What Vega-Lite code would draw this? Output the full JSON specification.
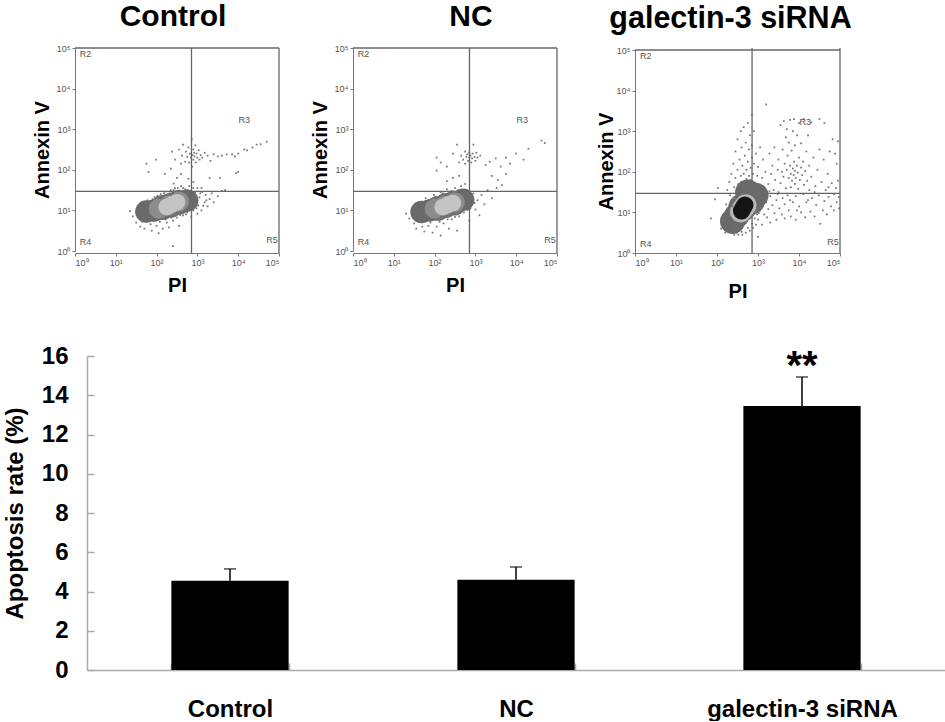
{"$schema":"https://vega.github.io/schema/vega-lite/v6.json","padding":{"left":3,"top":2,"right":0,"bottom":0},"background":"white","config":{"view":{"stroke":null},"font":"Liberation Sans","axis":{"labelOverlap":false,"labelSeparation":0}},"spacing":43,"datasets":{"gates":[{"x":2.855,"y":1.47},{"x":5,"y":5}],"labels":[{"x":0.26,"y":4.84,"t":"R2"},{"x":4.15,"y":3.23,"t":"R3"},{"x":0.26,"y":0.23,"t":"R4"},{"x":4.83,"y":0.27,"t":"R5"}],"bars":[{"group":"Control","rate":4.55,"upper":5.15},{"group":"NC","rate":4.6,"upper":5.25},{"group":"galectin-3 siRNA","rate":13.45,"upper":14.93}]},"vconcat":[{"spacing":30,"resolve":{"scale":{"color":"independent","size":"independent"}},"hconcat":[{"width":204,"height":205,"title":{"text":"Control","fontSize":30,"font":"Liberation Sans","fontWeight":"bold","color":"#000","offset":12,"dx":-4},"layer":[{"data":{"name":"gates"},"mark":{"type":"rule","color":"#666","strokeWidth":1.3},"encoding":{"x":{"field":"x","type":"quantitative","scale":{"domain":[0,5],"range":[0,204],"nice":false},"axis":{"title":"PI","titleFontSize":20,"titleFontWeight":"bold","titleColor":"#000","titlePadding":8,"values":[0,1,2,3,4,5],"labelExpr":"'10' + ['⁰','¹','²','³','⁴','⁵'][datum.value]","labelFontSize":9,"labelColor":"#555","tickColor":"#777","tickSize":3,"domainColor":"#777","grid":false}}}},{"data":{"name":"gates"},"mark":{"type":"rule","color":"#666","strokeWidth":1.3},"encoding":{"y":{"field":"y","type":"quantitative","scale":{"domain":[0,5],"range":[203,0],"nice":false},"axis":{"title":"Annexin V","titleFontSize":20,"titleFontWeight":"bold","titleColor":"#000","titlePadding":4,"values":[0,1,2,3,4,5],"labelExpr":"'10' + ['⁰','¹','²','³','⁴','⁵'][datum.value]","labelFontSize":9,"labelColor":"#555","tickColor":"#777","tickSize":3,"domainColor":"#777","grid":false}}}},{"data":{"values":[{"x":2.15,"y":1.07,"d":"halo"},{"x":2.35,"y":1.13,"d":"halo"},{"x":2.55,"y":1.2,"d":"halo"},{"x":1.75,"y":0.97,"d":"outer"},{"x":1.95,"y":1.0,"d":"outer"},{"x":2.75,"y":1.24,"d":"outer"},{"x":2.05,"y":1.04,"d":"mid"},{"x":2.3,"y":1.12,"d":"mid"},{"x":2.55,"y":1.22,"d":"mid"},{"x":2.25,"y":1.08,"d":"core"},{"x":2.38,"y":1.15,"d":"core"},{"x":2.5,"y":1.2,"d":"core"}]},"mark":{"type":"point","filled":true,"opacity":1,"stroke":null},"encoding":{"x":{"field":"x","type":"quantitative"},"y":{"field":"y","type":"quantitative"},"color":{"field":"d","type":"nominal","legend":null,"scale":{"domain":["halo","outer","mid","core"],"range":["#6f6f6f","#6a6a6a","#8c8c8c","#c4c4c4"]}},"size":{"field":"d","type":"nominal","legend":null,"scale":{"domain":["halo","outer","mid","core"],"range":[620,280,220,70]}}}},{"data":{"values":[{"x":1.35,"y":0.98},{"x":1.42,"y":0.85},{"x":1.5,"y":0.7},{"x":1.55,"y":1.05},{"x":1.6,"y":0.6},{"x":1.62,"y":0.9},{"x":1.68,"y":1.18},{"x":1.7,"y":0.55},{"x":1.75,"y":0.72},{"x":1.78,"y":1.25},{"x":1.85,"y":0.66},{"x":1.88,"y":0.5},{"x":1.95,"y":1.33},{"x":2.0,"y":0.62},{"x":2.05,"y":0.44},{"x":2.1,"y":1.4},{"x":2.15,"y":0.55},{"x":2.2,"y":1.46},{"x":2.25,"y":0.7},{"x":2.3,"y":0.58},{"x":2.35,"y":1.5},{"x":2.4,"y":0.75},{"x":2.45,"y":1.55},{"x":2.5,"y":0.82},{"x":2.55,"y":0.62},{"x":2.6,"y":1.6},{"x":2.65,"y":0.88},{"x":2.7,"y":1.52},{"x":2.75,"y":0.95},{"x":2.8,"y":1.6},{"x":2.85,"y":0.85},{"x":2.9,"y":1.0},{"x":2.92,"y":1.25},{"x":2.95,"y":1.45},{"x":3.0,"y":0.92},{"x":3.02,"y":1.12},{"x":3.05,"y":1.32},{"x":3.1,"y":1.0},{"x":3.12,"y":1.45},{"x":3.18,"y":1.2},{"x":3.2,"y":1.38},{"x":3.25,"y":1.1},{"x":3.3,"y":1.28},{"x":3.35,"y":1.42},{"x":3.4,"y":1.2},{"x":3.5,"y":1.35},{"x":3.6,"y":1.48},{"x":3.68,"y":1.5},{"x":2.4,"y":0.12},{"x":2.9,"y":1.7},{"x":2.78,"y":1.78},{"x":2.6,"y":1.9},{"x":2.42,"y":1.66},{"x":2.5,"y":1.8},{"x":2.35,"y":2.03},{"x":2.45,"y":2.25},{"x":2.38,"y":2.45},{"x":2.6,"y":2.15},{"x":2.62,"y":2.35},{"x":2.55,"y":2.5},{"x":2.65,"y":2.62},{"x":2.7,"y":2.2},{"x":2.72,"y":2.45},{"x":2.75,"y":2.32},{"x":2.78,"y":2.55},{"x":2.8,"y":2.18},{"x":2.82,"y":2.4},{"x":2.84,"y":2.3},{"x":2.86,"y":2.75},{"x":2.87,"y":2.08},{"x":2.88,"y":2.36},{"x":2.9,"y":2.5},{"x":2.9,"y":2.25},{"x":2.92,"y":2.42},{"x":2.93,"y":2.33},{"x":2.95,"y":2.6},{"x":2.96,"y":2.18},{"x":2.98,"y":2.4},{"x":3.0,"y":2.3},{"x":3.03,"y":2.48},{"x":3.05,"y":2.25},{"x":3.08,"y":2.36},{"x":3.12,"y":2.3},{"x":3.18,"y":2.42},{"x":3.25,"y":2.35},{"x":3.32,"y":2.22},{"x":3.4,"y":2.38},{"x":3.5,"y":2.33},{"x":3.6,"y":2.35},{"x":3.72,"y":2.38},{"x":3.85,"y":2.38},{"x":3.92,"y":2.33},{"x":4.0,"y":2.4},{"x":4.15,"y":2.5},{"x":4.22,"y":2.48},{"x":4.35,"y":2.55},{"x":4.45,"y":2.62},{"x":4.55,"y":2.63},{"x":4.7,"y":2.69},{"x":3.95,"y":1.92},{"x":4.0,"y":1.95},{"x":3.55,"y":1.8},{"x":3.3,"y":1.8},{"x":1.8,"y":1.95},{"x":1.75,"y":2.15},{"x":1.98,"y":2.25},{"x":2.2,"y":1.9},{"x":1.5,"y":0.95},{"x":1.58,"y":0.8},{"x":1.65,"y":0.72},{"x":1.72,"y":1.1},{"x":1.82,"y":0.78},{"x":1.9,"y":1.28},{"x":1.92,"y":0.74},{"x":2.02,"y":1.36},{"x":2.08,"y":0.72},{"x":2.18,"y":1.42},{"x":2.22,"y":0.78},{"x":2.32,"y":1.46},{"x":2.36,"y":0.82},{"x":2.42,"y":1.5},{"x":2.52,"y":1.55},{"x":2.58,"y":0.88},{"x":2.68,"y":1.48},{"x":2.72,"y":0.9},{"x":2.82,"y":1.45},{"x":2.88,"y":1.12},{"x":2.97,"y":1.22},{"x":3.07,"y":1.42},{"x":3.14,"y":1.12},{"x":2.98,"y":1.05},{"x":2.9,"y":1.55},{"x":3.0,"y":1.55},{"x":3.1,"y":1.55},{"x":3.22,"y":1.25},{"x":2.4,"y":1.42},{"x":2.55,"y":1.48},{"x":2.65,"y":1.55},{"x":2.76,"y":1.5},{"x":2.86,"y":1.38}]},"mark":{"type":"square","size":3,"color":"#666","opacity":0.9},"encoding":{"x":{"field":"x","type":"quantitative"},"y":{"field":"y","type":"quantitative"}}},{"data":{"name":"labels"},"mark":{"type":"text","fontSize":9,"color":"#555"},"encoding":{"x":{"field":"x","type":"quantitative"},"y":{"field":"y","type":"quantitative"},"text":{"field":"t"}}}]},{"width":213,"height":205,"title":{"text":"NC","fontSize":30,"font":"Liberation Sans","fontWeight":"bold","color":"#000","offset":12,"dx":11.5},"layer":[{"data":{"name":"gates"},"mark":{"type":"rule","color":"#666","strokeWidth":1.3},"encoding":{"x":{"field":"x","type":"quantitative","scale":{"domain":[0,5],"range":[0,204],"nice":false},"axis":{"title":"PI","titleFontSize":20,"titleFontWeight":"bold","titleColor":"#000","titlePadding":8,"values":[0,1,2,3,4,5],"labelExpr":"'10' + ['⁰','¹','²','³','⁴','⁵'][datum.value]","labelFontSize":9,"labelColor":"#555","tickColor":"#777","tickSize":3,"domainColor":"#777","grid":false}}}},{"data":{"name":"gates"},"mark":{"type":"rule","color":"#666","strokeWidth":1.3},"encoding":{"x":{"datum":0},"x2":{"datum":5},"y":{"field":"y","type":"quantitative","scale":{"domain":[0,5],"range":[203,0],"nice":false},"axis":{"title":"Annexin V","titleFontSize":20,"titleFontWeight":"bold","titleColor":"#000","titlePadding":4,"values":[0,1,2,3,4,5],"labelExpr":"'10' + ['⁰','¹','²','³','⁴','⁵'][datum.value]","labelFontSize":9,"labelColor":"#555","tickColor":"#777","tickSize":3,"domainColor":"#777","grid":false}}}},{"data":{"values":[{"x":2.08,"y":1.05,"d":"halo"},{"x":2.28,"y":1.12,"d":"halo"},{"x":2.48,"y":1.18,"d":"halo"},{"x":1.68,"y":0.96,"d":"outer"},{"x":1.88,"y":1.0,"d":"outer"},{"x":2.7,"y":1.26,"d":"outer"},{"x":2.0,"y":1.04,"d":"mid"},{"x":2.25,"y":1.12,"d":"mid"},{"x":2.5,"y":1.2,"d":"mid"},{"x":2.2,"y":1.08,"d":"core"},{"x":2.33,"y":1.14,"d":"core"},{"x":2.45,"y":1.18,"d":"core"}]},"mark":{"type":"point","filled":true,"opacity":1,"stroke":null},"encoding":{"x":{"field":"x","type":"quantitative"},"y":{"field":"y","type":"quantitative"},"color":{"field":"d","type":"nominal","legend":null,"scale":{"domain":["halo","outer","mid","core"],"range":["#6f6f6f","#6a6a6a","#8c8c8c","#c4c4c4"]}},"size":{"field":"d","type":"nominal","legend":null,"scale":{"domain":["halo","outer","mid","core"],"range":[620,280,220,70]}}}},{"data":{"values":[{"x":1.3,"y":0.92},{"x":1.38,"y":0.8},{"x":1.45,"y":1.05},{"x":1.5,"y":0.68},{"x":1.55,"y":0.55},{"x":1.6,"y":1.15},{"x":1.7,"y":0.6},{"x":1.75,"y":0.48},{"x":1.78,"y":1.3},{"x":1.85,"y":0.62},{"x":1.95,"y":0.45},{"x":1.98,"y":1.38},{"x":2.05,"y":0.6},{"x":2.15,"y":0.38},{"x":2.15,"y":1.45},{"x":2.22,"y":0.68},{"x":2.3,"y":1.52},{"x":2.35,"y":0.55},{"x":2.42,"y":0.78},{"x":2.5,"y":1.55},{"x":2.55,"y":0.5},{"x":2.6,"y":0.85},{"x":2.65,"y":1.6},{"x":2.72,"y":0.95},{"x":2.75,"y":1.65},{"x":2.82,"y":1.02},{"x":2.85,"y":0.75},{"x":2.9,"y":1.2},{"x":2.95,"y":1.42},{"x":3.0,"y":1.02},{"x":3.05,"y":1.25},{"x":3.1,"y":0.88},{"x":3.15,"y":1.38},{"x":3.22,"y":1.15},{"x":3.3,"y":1.5},{"x":3.4,"y":1.3},{"x":3.52,"y":1.55},{"x":3.65,"y":1.62},{"x":2.3,"y":1.72},{"x":2.45,"y":1.8},{"x":2.6,"y":1.85},{"x":2.3,"y":2.08},{"x":2.15,"y":2.18},{"x":2.05,"y":2.3},{"x":2.45,"y":2.4},{"x":2.55,"y":2.62},{"x":2.6,"y":2.18},{"x":2.65,"y":2.35},{"x":2.7,"y":2.25},{"x":2.75,"y":2.45},{"x":2.75,"y":2.15},{"x":2.78,"y":2.32},{"x":2.8,"y":2.38},{"x":2.82,"y":2.22},{"x":2.85,"y":2.42},{"x":2.85,"y":2.3},{"x":2.88,"y":2.35},{"x":2.9,"y":2.18},{"x":2.92,"y":2.28},{"x":2.93,"y":2.4},{"x":2.95,"y":2.62},{"x":2.98,"y":2.32},{"x":3.0,"y":2.22},{"x":3.02,"y":2.42},{"x":3.05,"y":2.3},{"x":3.12,"y":2.35},{"x":3.25,"y":2.12},{"x":3.35,"y":2.2},{"x":3.5,"y":2.28},{"x":3.62,"y":2.08},{"x":3.75,"y":2.3},{"x":3.85,"y":2.15},{"x":4.0,"y":2.4},{"x":4.18,"y":2.25},{"x":4.3,"y":2.52},{"x":4.62,"y":2.72},{"x":4.7,"y":2.66},{"x":3.55,"y":1.75},{"x":3.75,"y":1.9},{"x":3.4,"y":1.85},{"x":2.05,"y":1.98},{"x":1.48,"y":0.92},{"x":1.58,"y":0.78},{"x":1.66,"y":1.12},{"x":1.72,"y":0.72},{"x":1.86,"y":1.26},{"x":1.9,"y":0.7},{"x":2.02,"y":1.34},{"x":2.12,"y":0.72},{"x":2.2,"y":1.42},{"x":2.32,"y":0.78},{"x":2.42,"y":1.48},{"x":2.5,"y":0.84},{"x":2.58,"y":1.5},{"x":2.7,"y":1.48},{"x":2.78,"y":1.5},{"x":2.86,"y":1.4},{"x":2.88,"y":1.05},{"x":2.98,"y":1.18}]},"mark":{"type":"square","size":3,"color":"#666","opacity":0.9},"encoding":{"x":{"field":"x","type":"quantitative"},"y":{"field":"y","type":"quantitative"}}},{"data":{"name":"labels"},"mark":{"type":"text","fontSize":9,"color":"#555"},"encoding":{"x":{"field":"x","type":"quantitative"},"y":{"field":"y","type":"quantitative"},"text":{"field":"t"}}}]},{"width":205,"height":205,"title":{"text":"galectin-3 siRNA","fontSize":30.5,"font":"Liberation Sans","fontWeight":"bold","color":"#000","offset":12,"dx":-7},"layer":[{"data":{"name":"gates"},"mark":{"type":"rule","color":"#666","strokeWidth":1.3},"encoding":{"x":{"field":"x","type":"quantitative","scale":{"domain":[0,5],"range":[0,205],"nice":false},"axis":{"title":"PI","titleFontSize":20,"titleFontWeight":"bold","titleColor":"#000","titlePadding":14,"values":[0,1,2,3,4,5],"labelExpr":"'10' + ['⁰','¹','²','³','⁴','⁵'][datum.value]","labelFontSize":9,"labelColor":"#555","tickColor":"#777","tickSize":3,"domainColor":"#777","grid":false}}}},{"data":{"name":"gates"},"mark":{"type":"rule","color":"#666","strokeWidth":1.3},"encoding":{"y":{"field":"y","type":"quantitative","scale":{"domain":[0,5],"range":[205,2],"nice":false},"axis":{"title":"Annexin V","titleFontSize":20,"titleFontWeight":"bold","titleColor":"#000","titlePadding":0,"titleY":113,"values":[0,1,2,3,4,5],"labelExpr":"'10' + ['⁰','¹','²','³','⁴','⁵'][datum.value]","labelFontSize":9,"labelColor":"#555","tickColor":"#777","tickSize":3,"domainColor":"#777","grid":false}}}},{"data":{"values":[{"x":2.62,"y":1.12,"d":"halo"},{"x":2.82,"y":1.28,"d":"halo"},{"x":2.48,"y":0.92,"d":"outer"},{"x":2.38,"y":0.78,"d":"outer"},{"x":2.95,"y":1.42,"d":"outer"},{"x":2.75,"y":1.5,"d":"outer"},{"x":2.64,"y":1.1,"d":"mid"},{"x":2.58,"y":1.02,"d":"mid"},{"x":2.7,"y":1.18,"d":"mid"},{"x":2.6,"y":1.04,"d":"core"},{"x":2.64,"y":1.11,"d":"core"},{"x":2.68,"y":1.18,"d":"core"}]},"mark":{"type":"point","filled":true,"opacity":1,"stroke":null},"encoding":{"x":{"field":"x","type":"quantitative"},"y":{"field":"y","type":"quantitative"},"color":{"field":"d","type":"nominal","legend":null,"scale":{"domain":["halo","outer","mid","core"],"range":["#707070","#6a6a6a","#b8b8b8","#151515"]}},"size":{"field":"d","type":"nominal","legend":null,"scale":{"domain":["halo","outer","mid","core"],"range":[800,300,110,22]}}}},{"data":{"values":[{"x":1.85,"y":0.85},{"x":2.02,"y":1.6},{"x":1.95,"y":1.32},{"x":2.1,"y":0.6},{"x":2.15,"y":0.72},{"x":2.18,"y":0.95},{"x":2.2,"y":0.5},{"x":2.22,"y":1.2},{"x":2.25,"y":0.62},{"x":2.25,"y":1.55},{"x":2.28,"y":0.85},{"x":2.3,"y":1.75},{"x":2.32,"y":1.42},{"x":2.35,"y":1.95},{"x":2.35,"y":0.55},{"x":2.38,"y":1.15},{"x":2.4,"y":2.2},{"x":2.42,"y":1.62},{"x":2.42,"y":0.45},{"x":2.45,"y":2.5},{"x":2.45,"y":1.85},{"x":2.48,"y":1.45},{"x":2.5,"y":2.05},{"x":2.5,"y":2.8},{"x":2.52,"y":1.7},{"x":2.52,"y":0.45},{"x":2.55,"y":2.3},{"x":2.55,"y":1.55},{"x":2.58,"y":1.9},{"x":2.58,"y":3.0},{"x":2.6,"y":2.6},{"x":2.6,"y":1.75},{"x":2.62,"y":2.15},{"x":2.62,"y":0.45},{"x":2.65,"y":1.95},{"x":2.65,"y":3.1},{"x":2.68,"y":2.4},{"x":2.68,"y":1.72},{"x":2.7,"y":2.72},{"x":2.7,"y":0.5},{"x":2.72,"y":2.05},{"x":2.72,"y":1.82},{"x":2.75,"y":2.25},{"x":2.75,"y":3.2},{"x":2.78,"y":2.55},{"x":2.78,"y":1.9},{"x":2.8,"y":2.9},{"x":2.8,"y":0.55},{"x":2.82,"y":2.1},{"x":2.82,"y":1.8},{"x":2.85,"y":2.35},{"x":2.85,"y":3.4},{"x":2.85,"y":2.65},{"x":2.88,"y":1.95},{"x":2.88,"y":0.62},{"x":2.9,"y":2.2},{"x":2.9,"y":3.0},{"x":2.92,"y":1.72},{"x":2.95,"y":2.45},{"x":2.95,"y":0.7},{"x":2.98,"y":1.9},{"x":3.0,"y":2.12},{"x":3.0,"y":0.82},{"x":3.02,"y":1.62},{"x":3.05,"y":2.6},{"x":3.05,"y":1.05},{"x":3.08,"y":1.3},{"x":3.1,"y":0.7},{"x":3.1,"y":1.85},{"x":3.12,"y":1.15},{"x":3.12,"y":2.3},{"x":3.15,"y":0.95},{"x":3.15,"y":1.52},{"x":3.18,"y":2.0},{"x":3.2,"y":3.66},{"x":3.2,"y":1.25},{"x":3.22,"y":0.88},{"x":3.25,"y":1.7},{"x":3.25,"y":1.08},{"x":3.28,"y":2.45},{"x":3.3,"y":1.4},{"x":3.3,"y":0.75},{"x":3.32,"y":1.95},{"x":3.35,"y":1.18},{"x":3.35,"y":2.15},{"x":3.38,"y":1.55},{"x":3.4,"y":0.98},{"x":3.4,"y":2.6},{"x":3.42,"y":1.8},{"x":3.45,"y":1.3},{"x":3.45,"y":0.82},{"x":3.48,"y":2.05},{"x":3.5,"y":1.5},{"x":3.5,"y":2.3},{"x":3.52,"y":1.1},{"x":3.55,"y":1.72},{"x":3.55,"y":3.15},{"x":3.58,"y":0.95},{"x":3.58,"y":2.0},{"x":3.6,"y":1.35},{"x":3.6,"y":2.55},{"x":3.62,"y":1.88},{"x":3.63,"y":3.25},{"x":3.65,"y":2.2},{"x":3.65,"y":1.2},{"x":3.65,"y":0.85},{"x":3.68,"y":1.6},{"x":3.68,"y":2.85},{"x":3.7,"y":2.05},{"x":3.7,"y":3.05},{"x":3.72,"y":1.42},{"x":3.72,"y":2.4},{"x":3.75,"y":1.85},{"x":3.75,"y":1.05},{"x":3.75,"y":2.72},{"x":3.78,"y":2.15},{"x":3.78,"y":3.28},{"x":3.8,"y":1.95},{"x":3.8,"y":1.62},{"x":3.8,"y":0.9},{"x":3.82,"y":2.52},{"x":3.83,"y":1.78},{"x":3.85,"y":2.08},{"x":3.85,"y":1.25},{"x":3.85,"y":3.0},{"x":3.87,"y":1.92},{"x":3.88,"y":2.25},{"x":3.88,"y":3.3},{"x":3.9,"y":1.7},{"x":3.9,"y":2.02},{"x":3.9,"y":2.65},{"x":3.92,"y":1.85},{"x":3.92,"y":1.4},{"x":3.92,"y":0.82},{"x":3.95,"y":2.15},{"x":3.95,"y":2.9},{"x":3.97,"y":1.98},{"x":3.98,"y":1.58},{"x":4.0,"y":2.35},{"x":4.0,"y":1.15},{"x":4.0,"y":3.2},{"x":4.02,"y":1.8},{"x":4.05,"y":2.1},{"x":4.05,"y":1.0},{"x":4.05,"y":2.7},{"x":4.08,"y":1.92},{"x":4.1,"y":1.45},{"x":4.1,"y":2.25},{"x":4.12,"y":1.68},{"x":4.12,"y":3.3},{"x":4.15,"y":2.02},{"x":4.15,"y":0.88},{"x":4.18,"y":1.25},{"x":4.18,"y":2.5},{"x":4.2,"y":1.78},{"x":4.22,"y":2.9},{"x":4.25,"y":1.55},{"x":4.25,"y":2.15},{"x":4.28,"y":1.02},{"x":4.3,"y":1.88},{"x":4.3,"y":3.22},{"x":4.32,"y":1.35},{"x":4.35,"y":2.35},{"x":4.38,"y":0.9},{"x":4.4,"y":1.65},{"x":4.42,"y":1.18},{"x":4.45,"y":2.05},{"x":4.48,"y":1.42},{"x":4.5,"y":2.55},{"x":4.5,"y":3.3},{"x":4.52,"y":0.72},{"x":4.55,"y":1.75},{"x":4.58,"y":1.05},{"x":4.6,"y":2.3},{"x":4.62,"y":1.28},{"x":4.62,"y":3.2},{"x":4.65,"y":1.55},{"x":4.68,"y":0.95},{"x":4.7,"y":1.95},{"x":4.72,"y":1.38},{"x":4.75,"y":2.5},{"x":4.78,"y":1.15},{"x":4.8,"y":1.72},{"x":4.82,"y":2.8},{"x":4.85,"y":1.45},{"x":4.85,"y":1.05},{"x":4.88,"y":2.45},{"x":4.9,"y":1.6},{"x":4.92,"y":1.25},{"x":4.92,"y":2.2},{"x":4.95,"y":1.78},{"x":4.95,"y":2.75},{"x":4.97,"y":1.38},{"x":4.98,"y":1.1},{"x":3.95,"y":1.05},{"x":4.22,"y":1.3},{"x":4.38,"y":1.5},{"x":4.72,"y":1.62},{"x":3.48,"y":1.45},{"x":3.78,"y":1.3},{"x":3.28,"y":1.52},{"x":3.15,"y":1.42},{"x":3.08,"y":1.5},{"x":2.98,"y":1.25},{"x":3.02,"y":0.98},{"x":2.98,"y":0.95},{"x":2.92,"y":0.85},{"x":2.85,"y":0.72},{"x":2.75,"y":0.62},{"x":2.6,"y":0.52},{"x":2.48,"y":0.5},{"x":2.3,"y":0.68},{"x":3.0,"y":0.4}]},"mark":{"type":"square","size":3,"color":"#666","opacity":0.9},"encoding":{"x":{"field":"x","type":"quantitative"},"y":{"field":"y","type":"quantitative"}}},{"data":{"name":"labels"},"mark":{"type":"text","fontSize":9,"color":"#555"},"encoding":{"x":{"field":"x","type":"quantitative"},"y":{"field":"y","type":"quantitative"},"text":{"field":"t"}}}]}]},{"width":870,"height":314,"encoding":{"y":{"field":"rate","type":"quantitative","scale":{"domain":[0,16],"nice":false},"axis":{"title":"Apoptosis rate (%)","titleFontSize":24,"titleFontWeight":"bold","titleColor":"#000","titlePadding":14,"offset":-12,"tickCount":8,"labelFontSize":24,"labelFontWeight":"bold","labelColor":"#000","labelPadding":26,"labelOverlap":false,"labelBound":false,"tickSize":-7,"tickColor":"#aaa","tickWidth":1.5,"domainColor":"#aaa","domainWidth":1.5,"grid":false}}},"layer":[{"data":{"name":"bars"},"mark":{"type":"bar","color":"#000"},"encoding":{"x":{"field":"group","type":"nominal","sort":null,"scale":{"range":[12,870],"paddingInner":0.59,"paddingOuter":0.295},"axis":{"title":null,"labelAngle":0,"labelFontSize":24,"labelFontWeight":"bold","labelColor":"#000","labelPadding":34,"labelLimit":400,"tickBand":"extent","tickSize":-7,"tickColor":"#aaa","tickWidth":1.5,"domainColor":"#aaa","domainWidth":1.5}}}},{"data":{"name":"bars"},"mark":{"type":"rule","color":"#000","strokeWidth":1.5},"encoding":{"x":{"field":"group","type":"nominal","sort":null},"y2":{"field":"upper"}}},{"data":{"name":"bars"},"mark":{"type":"tick","color":"#000","size":12,"thickness":1.5,"orient":"horizontal"},"encoding":{"x":{"field":"group","type":"nominal","sort":null},"y":{"field":"upper","type":"quantitative"}}},{"data":{"values":[{"group":"galectin-3 siRNA","y":14.93,"t":"**"}]},"mark":{"type":"text","fontSize":40,"fontWeight":"bold","color":"#000","baseline":"middle","dy":-10},"encoding":{"x":{"field":"group","type":"nominal","sort":null},"y":{"field":"y","type":"quantitative"},"text":{"field":"t"}}}]}]}
